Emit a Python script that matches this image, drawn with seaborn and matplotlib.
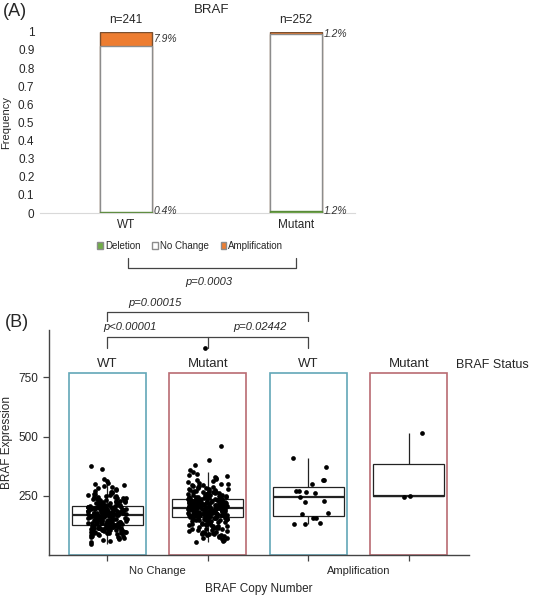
"""
BRAF copy number: frequency by status (A) and expression by copy number (B).
"""
import matplotlib
matplotlib.use('Agg')
import matplotlib.pyplot as plt
from matplotlib.patches import Patch, Rectangle
import pandas as pd
import seaborn as sns

sns.set_style('white')
plt.rcParams['font.family'] = ['Liberation Sans', 'DejaVu Sans']

# panel A: sample counts per BRAF status
status = ['WT', 'Mutant']
deletion_n = [1, 3]
nochange_n = [221, 246]
amplification_n = [19, 3]

# panel B: BRAF expression per sample
wt_nochange = [
    46, 55, 60, 63, 66, 70, 72, 75, 78, 80, 82, 84, 86, 88, 89, 91, 92, 93,
    95, 96, 97, 98, 99, 99, 100,
    101, 102, 103, 104, 104, 105, 106, 107, 108, 108, 109, 110, 111, 112,
    112, 113, 114, 115, 116, 116, 117, 118, 119, 120, 120, 121, 122, 123,
    124, 125,
    126, 127, 127, 128, 129, 130, 131, 131, 132, 133, 134, 135, 135, 136,
    137, 138, 139, 139, 140, 141, 142, 143, 143, 144, 145, 146, 147, 147,
    148, 149, 150, 151, 151, 152, 153, 154, 155, 155, 156, 157, 158, 159,
    159, 160, 161, 162, 163, 163, 164, 165, 165, 166, 166, 167, 167,
    168, 168, 169, 170, 170, 171, 172, 172, 173, 174, 175, 175, 176, 177,
    177, 178, 179, 179, 180, 181, 182, 182, 183, 184, 184, 185, 186, 186,
    187, 188, 189, 189, 190, 191, 191, 192, 193, 193, 194, 195, 196, 196,
    197, 198, 198, 199, 200, 200, 201, 202, 202, 203, 203, 204, 204,
    205, 206, 207, 208, 209, 210, 211, 212, 213, 215, 216, 217, 218, 220,
    221, 222, 223, 225, 226, 227, 228, 230, 231, 232, 234, 235, 236, 238,
    239, 240, 242, 243, 245, 246, 248, 250, 252, 254, 256, 258,
    262, 265, 268, 271, 274, 278, 282, 286, 290, 295, 300, 306, 312, 320,
    362, 375,
]
mut_nochange = [
    55, 58, 62, 66, 70, 73, 76, 79, 81, 83, 85, 87, 89, 90, 92, 94, 95, 97,
    98, 100,
    102, 104, 106, 108, 110, 111, 113, 115, 116, 118, 119, 121, 122, 124,
    125, 127, 128, 130, 131, 133, 134, 136, 137, 139, 140, 142, 143, 145,
    146, 147, 148, 149, 150, 151, 152, 153, 154, 155, 156, 157, 158,
    159, 159, 160, 161, 161, 162, 163, 163, 164, 165, 165, 166, 167, 167,
    168, 169, 169, 170, 171, 171, 172, 173, 173, 174, 175, 175, 176, 177,
    177, 178, 179, 179, 180, 181, 181, 182, 183, 183, 184, 185, 185, 186,
    187, 187, 188, 189, 189, 190, 191, 191, 192, 192, 193, 193, 194, 194,
    195, 195, 196, 196, 196, 196,
    197, 197, 198, 199, 199, 200, 201, 201, 202, 203, 203, 204, 205, 205,
    206, 207, 207, 208, 209, 209, 210, 211, 211, 212, 213, 213, 214, 215,
    215, 216, 217, 217, 218, 219, 219, 220, 221, 221, 222, 223, 223, 224,
    225, 225, 226, 227, 227, 228, 229, 229, 230, 231, 231, 232, 233, 233,
    234, 235, 235, 236, 237,
    238, 239, 240, 241, 242, 243, 244, 245, 246, 247, 248, 249, 250, 251,
    252, 253, 254, 255, 256, 258, 259, 260, 262, 263, 264, 266, 267, 268,
    270, 271, 272, 274, 275, 277, 278, 280, 282, 284, 286, 288, 290, 292,
    294, 296, 298,
    301, 304, 308, 312, 316, 320, 324, 328, 333, 338, 344, 350,
    358, 378, 400, 460, 875,
]
wt_amp = [408, 372, 316, 316, 301, 264, 270, 270, 262, 245, 226, 224, 178,
          172, 157, 157, 130, 136, 132]
mut_amp = [517, 250, 246]

copy_labels = ['No Change', 'Amplification']

fig = plt.figure(figsize=(5.33, 6), dpi=100)

###############################################################################
# (A) stacked frequency bars
###############################################################################
ax_a = fig.add_axes([0.075, 0.645, 0.591, 0.302])
tot = [d + n + a for d, n, a in zip(deletion_n, nochange_n, amplification_n)]
freq = pd.DataFrame({
    'status': status,
    'del': [d / t for d, t in zip(deletion_n, tot)],
    'nc': [(d + n) / t for d, n, t in zip(deletion_n, nochange_n, tot)],
    'amp': [1.0 for _ in tot],
})
sns.barplot(freq, x='status', y='amp', color='#ed7d31', width=0.31,
            edgecolor='#7a5030', linewidth=1, saturation=1, ax=ax_a)
sns.barplot(freq, x='status', y='nc', color='white', width=0.31,
            edgecolor='#8c8c8c', linewidth=1, saturation=1, ax=ax_a)
sns.barplot(freq, x='status', y='del', color='#70ad47', width=0.31,
            edgecolor='#5a8a3a', linewidth=1, saturation=1, ax=ax_a)

for i in range(len(status)):
    ax_a.text(i, 1.066, 'n=%d' % tot[i], ha='center', va='center', fontsize=8.5)
    pa = 100 * amplification_n[i] / tot[i]
    pd_ = 100 * deletion_n[i] / tot[i]
    ytop = 1 - amplification_n[i] / tot[i] / 2 if i == 0 else 0.99
    ax_a.text(i + 0.165, ytop, '%.1f%%' % pa, ha='left', va='center',
              fontsize=7.5, style='italic', color='#333333')
    ax_a.text(i + 0.165, 0.01, '%.1f%%' % pd_, ha='left', va='center',
              fontsize=7.5, style='italic', color='#333333')

ax_a.set_xlim(-0.506, 1.347)
ax_a.set_ylim(0, 1)
ax_a.set_yticks([k / 10 for k in range(11)])
ax_a.set_yticklabels(['0'] + ['0.%d' % k for k in range(1, 10)] + ['1'])
ax_a.tick_params(axis='both', length=0, labelsize=8.5, pad=4)
ax_a.set_xlabel('')
ax_a.set_ylabel('Frequency', fontsize=8, labelpad=5)
for s in ['top', 'right', 'left']:
    ax_a.spines[s].set_visible(False)
ax_a.spines['bottom'].set_color('#d9d9d9')
ax_a.text(0.506, 1.12, 'BRAF', ha='center', va='center', fontsize=9.5)

# bracket below panel A
ax_a.plot([0.012, 0.012, 1.0, 1.0], [-0.249, -0.304, -0.304, -0.249],
          color='#444444', lw=0.9, clip_on=False)
ax_a.text(0.49, -0.381, 'p=0.0003', ha='center', va='center', fontsize=8,
          style='italic')

fig.legend(handles=[Patch(facecolor='#70ad47', edgecolor='#8c8c8c'),
                    Patch(facecolor='white', edgecolor='#8c8c8c'),
                    Patch(facecolor='#ed7d31', edgecolor='#8c8c8c')],
           labels=['Deletion', 'No Change', 'Amplification'],
           loc='center', bbox_to_anchor=(0.357, 0.59), ncol=3, frameon=False,
           fontsize=7, handlelength=0.6, handleheight=0.6, handletextpad=0.2,
           columnspacing=1.2)

fig.text(0.005, 0.98, '(A)', fontsize=13, va='center', ha='left')

###############################################################################
# (B) expression by copy number and status
###############################################################################
ax_b = fig.add_axes([0.092, 0.075, 0.788, 0.375])
groups = [(copy_labels[0], 'WT', wt_nochange),
          (copy_labels[0], 'Mutant', mut_nochange),
          (copy_labels[1], 'WT', wt_amp),
          (copy_labels[1], 'Mutant', mut_amp)]
rows = []
for cn, st, vals in groups:
    for v in vals:
        rows.append({'group': cn + '|' + st, 'status': st, 'expr': v})
expr = pd.DataFrame(rows)
order = [cn + '|' + st for cn, st, _ in groups]

frame_col = {'WT': '#62a7b7', 'Mutant': '#b96b72'}
for i, (cn, st, _) in enumerate(groups):
    ax_b.add_patch(Rectangle((i - 0.385, 0), 0.77, 767, fill=False,
                             edgecolor=frame_col[st], lw=1.2, zorder=0.5))
    ax_b.text(i, 808, st, ha='center', va='center', fontsize=9.5)

sns.boxplot(expr, x='group', y='expr', order=order, width=0.71,
            color='white', linecolor='#222222', linewidth=0.9,
            showfliers=False, showcaps=False,
            medianprops={'linewidth': 1.6}, ax=ax_b)
sns.stripplot(expr, x='group', y='expr', order=order, color='black',
              size=3.4, jitter=0.2, ax=ax_b, zorder=3, clip_on=False)

ax_b.set_xlim(-0.58, 3.6)
ax_b.set_ylim(0, 950)
ax_b.set_yticks([250, 500, 750])
ax_b.set_xticks([0.5, 2.5])
ax_b.set_xticklabels(copy_labels)
ax_b.set_xticks([0, 1, 2, 3], minor=True)
ax_b.tick_params(axis='x', which='major', length=0, labelsize=8, pad=8)
ax_b.tick_params(axis='x', which='minor', length=4, width=0.9,
                 color='#444444', direction='out', bottom=True)
ax_b.tick_params(axis='y', length=4, width=0.9, color='#444444',
                 labelsize=8.5, left=True)
ax_b.set_xlabel('BRAF Copy Number', fontsize=8.5, labelpad=5)
ax_b.set_ylabel('BRAF Expression', fontsize=8.5, labelpad=4)
for s in ['top', 'right']:
    ax_b.spines[s].set_visible(False)
for s in ['left', 'bottom']:
    ax_b.spines[s].set_color('#444444')
    ax_b.spines[s].set_linewidth(1)

# significance brackets
ax_b.plot([0, 0, 2, 2], [990, 1028, 1028, 990], color='#444444', lw=0.9,
          clip_on=False)
ax_b.text(0.47, 1066, 'p=0.00015', ha='center', va='center', fontsize=8,
          style='italic')
ax_b.plot([0, 0, 2, 2], [872, 919, 919, 872], color='#444444', lw=0.9,
          clip_on=False)
ax_b.plot([1, 1], [919, 872], color='#444444', lw=0.9, clip_on=False)
ax_b.text(0.23, 961, 'p<0.00001', ha='center', va='center', fontsize=8,
          style='italic')
ax_b.text(1.52, 961, 'p=0.02442', ha='center', va='center', fontsize=8,
          style='italic')

fig.text(0.856, 0.392, 'BRAF Status', fontsize=9, ha='left', va='center')
fig.text(0.01, 0.462, '(B)', fontsize=13, va='center', ha='left')

fig.savefig('out.png', dpi=100)
